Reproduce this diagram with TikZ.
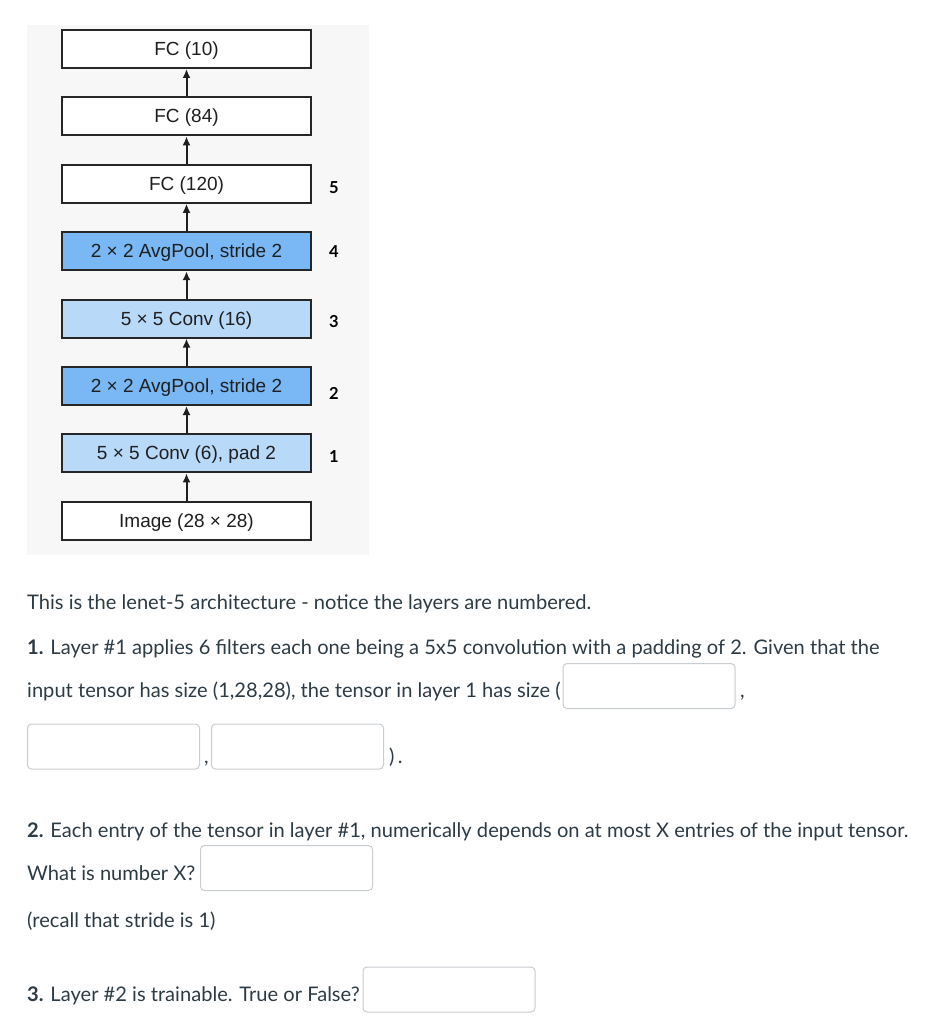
\documentclass[tikz,border=0pt]{standalone}
\usepackage{fontspec}
\setmainfont{Lato}
\newfontfamily\archfont{Liberation Sans}
\usetikzlibrary{positioning,arrows.meta}
\definecolor{txt}{HTML}{2D3B45}
\definecolor{poolblue}{HTML}{79B8F5}
\definecolor{convblue}{HTML}{B9D9F9}
\definecolor{panel}{HTML}{F7F7F7}
\definecolor{field}{HTML}{C7CDD1}

\begin{document}
\begin{tikzpicture}[x=1pt, y=-1pt, node distance=27.4pt,
    layer/.style = {draw=black!85, line width=2pt, minimum width=249pt, minimum height=38pt, inner sep=0pt, text height=14pt, text depth=1pt, font=\archfont\fontsize{19}{22}\selectfont, text=black!88},
    fc/.style = {layer, fill=white},
    conv/.style = {layer, fill=convblue},
    pool/.style = {layer, fill=poolblue},
    up/.style = {-{Latex[length=9pt,width=8pt]}, line width=2pt, black!88},
    num/.style = {inner sep=0pt, font=\bfseries\fontsize{16.5}{18}\selectfont},
    line/.style = {anchor=base west, inner sep=0pt, text=txt, font=\fontsize{20.1}{24}\selectfont},
    answer/.style = {draw=field, line width=1pt, rounded corners=4pt, minimum width=172pt, minimum height=45pt, inner sep=0pt, fill=white}]
  \useasboundingbox (0,0) rectangle (942,1024);
  \fill[panel] (27,25) rectangle (369,555);

  % lenet-5 layers
  \node[fc] (fc3) at (186.5,49) {FC (10)};
  \node[fc] (fc2)[below=of fc3]{FC (84)};
  \node[fc] (fc1)[below=of fc2]{FC (120)};
  \node[pool] (p4)[below=of fc1]{2 × 2 AvgPool, stride 2};
  \node[conv] (c3)[below=of p4]{5 × 5 Conv (16)};
  \node[pool] (p2)[below=of c3]{2 × 2 AvgPool, stride 2};
  \node[conv] (c1)[below=of p2]{5 × 5 Conv (6), pad 2};
  \node[fc] (img)[below=of c1]{Image (28 × 28)};

  \path[up]
  (img) edge (c1)
  (c1) edge (p2)
  (p2) edge (c3)
  (c3) edge (p4)
  (p4) edge (fc1)
  (fc1) edge (fc2)
  (fc2) edge (fc3)
  ;

  \node[num] (n5) at (334,188) {5};
  \node[num] (n4) at (334,252) {4};
  \node[num] (n3) at (334,322) {3};
  \node[num] (n2) at (334,393) {2};
  \node[num] (n1) at (334,457) {1};

  % question text
  \node[line] (t0) at (27,609) {This is the lenet-5 architecture - notice the layers are numbered.};
  \node[line] (t1) at (27,654) {\textbf{1.} Layer \#1 applies 6 filters each one being a 5x5 convolution with a padding of 2. Given that the};
  \node[line] (t2) at (27,697) {input tensor has size (1,28,28), the tensor in layer 1 has size (};
  \node[answer] (a1) at (649,686) {};
  \node[line] (k1) at (740,697) {,};
  \node[answer] (a2) at (113.5,746.5) {};
  \node[line] (k2) at (204,763) {,};
  \node[answer] (a3) at (297.5,746.5) {};
  \node[line] (k3) at (389,763) {)\,.};
  \node[line] (t3) at (27,837) {\textbf{2.} Each entry of the tensor in layer \#1, numerically depends on at most X entries of the input tensor.};
  \node[line] (t4) at (27,880) {What is number X?};
  \node[answer] (a4) at (286.5,868) {};
  \node[line] (t5) at (27,927) {(recall that stride is 1)};
  \node[line] (t6) at (27,1001) {\textbf{3.} Layer \#2 is trainable. True or False?};
  \node[answer] (a5) at (449,989.5) {};
\end{tikzpicture}
\end{document}
